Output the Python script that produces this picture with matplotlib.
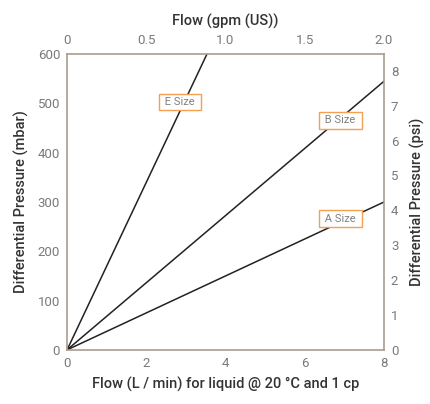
import matplotlib.pyplot as plt

# flow in L/min, pressure in mbar
sizes = ["E Size", "B Size", "A Size"]
flow_end = [3.53, 8.0, 8.0]
dp_end = [600, 545, 300]
label_x = [2.85, 6.9, 6.9]
label_y = [503, 466, 266]

x_ticks = [0, 2, 4, 6, 8]
y_ticks = [0, 100, 200, 300, 400, 500, 600]
gpm_ticks = [0, 0.5, 1.0, 1.5, 2.0]
gpm_labels = ["0", "0.5", "1.0", "1.5", "2.0"]
psi_ticks = [0, 1, 2, 3, 4, 5, 6, 7, 8]

spine_col = '#a89c8c'
tick_col = '#7a7a7a'
lab_col = '#333333'

plt.rcParams['font.family'] = ['Roboto', 'DejaVu Sans']

fig = plt.figure(figsize=(4.3, 4.04), dpi=100)
ax = fig.add_axes([0.156, 0.134, 0.737, 0.732])

for name, fx, dp in zip(sizes, flow_end, dp_end):
    ax.plot([0, fx], [0, dp], color='#222222', lw=1.1)

for name, lx, ly in zip(sizes, label_x, label_y):
    ax.text(lx, ly, " " + name + " ", fontsize=8, color='#808080', ha='center', va='center',
            bbox=dict(boxstyle='square,pad=0.3', fc='white', ec='#f5a050', lw=1.0))

ax.set_xlim(0, 8)
ax.set_ylim(0, 600)
ax.set_xticks(x_ticks)
ax.set_yticks(y_ticks)
ax.set_xlabel("Flow (L / min) for liquid @ 20 °C and 1 cp", fontsize=10.5,
              color=lab_col, labelpad=5, fontweight='medium')
ax.set_ylabel("Differential Pressure (mbar)", fontsize=10.5, color=lab_col,
              labelpad=6, fontweight='medium')

top = ax.twiny()
top.set_xlim(0, 2.0)
top.set_xticks(gpm_ticks)
top.set_xticklabels(gpm_labels)
top.set_xlabel("Flow (gpm (US))", fontsize=10.5, color=lab_col, labelpad=6,
               fontweight='medium')

right = ax.twinx()
right.set_ylim(0, 8.48)
right.set_yticks(psi_ticks)
right.set_ylabel("Differential Pressure (psi)", fontsize=10.5, color=lab_col,
                 labelpad=8, fontweight='medium')

for a in (ax, top, right):
    a.tick_params(length=0, labelsize=9.5, labelcolor=tick_col, pad=5)
    for s in a.spines.values():
        s.set_visible(False)
for s in ax.spines.values():
    s.set_visible(True)
    s.set_color(spine_col)
    s.set_linewidth(1.2)

fig.savefig("out.png", dpi=100)
